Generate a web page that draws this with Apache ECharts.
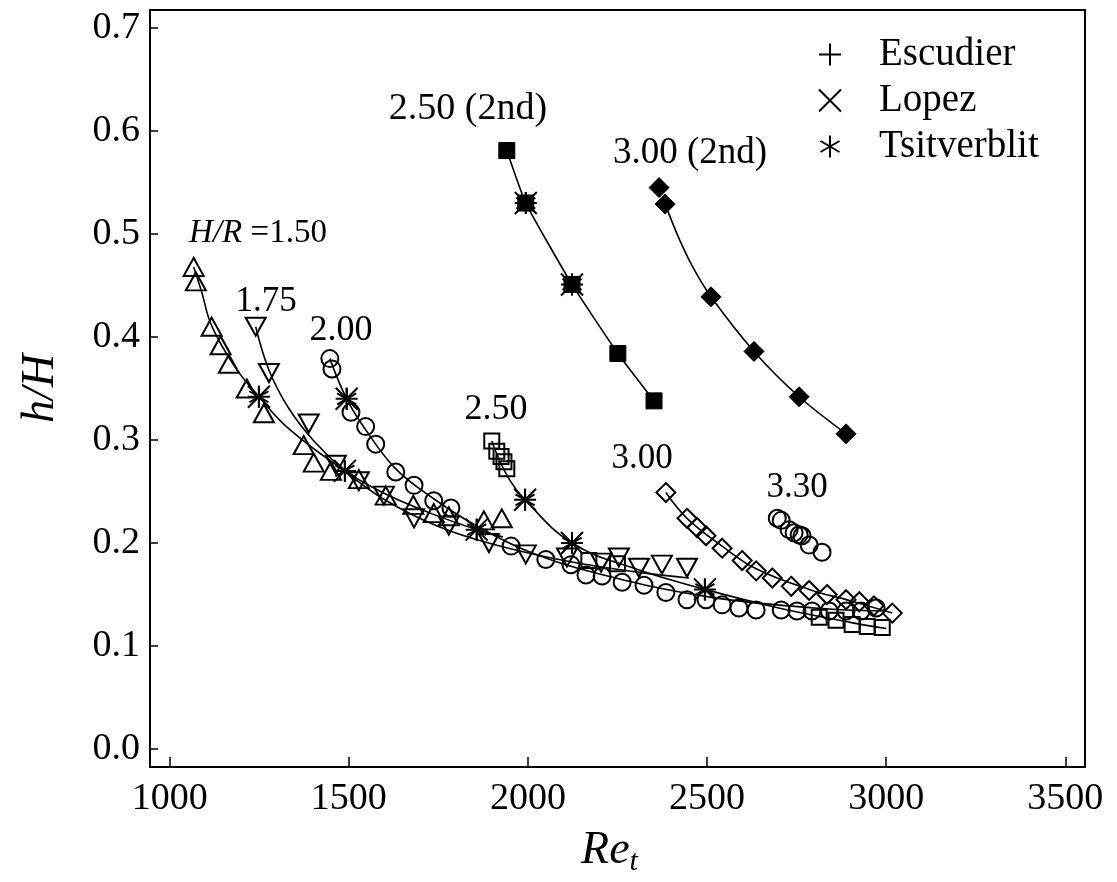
<!DOCTYPE html>
<html>
<head>
<meta charset="utf-8">
<script src="https://cdn.jsdelivr.net/npm/echarts@6/dist/echarts.min.js"></script>
<style>
html,body{margin:0;padding:0;background:#fff;}
#chart{width:1117px;height:882px;}
</style>
</head>
<body>
<div id="chart"></div>
<script>
// ---- tick labels ----
const reTicks = [1000, 1500, 2000, 2500, 3000, 3500];
const hTicks = [0.0, 0.1, 0.2, 0.3, 0.4, 0.5, 0.6, 0.7];

// ---- measured points [Re_t, h/H] ----
const hr150 = [[1067,0.468],[1073,0.454],[1117,0.410],[1142,0.392],[1165,0.374],[1215,0.350],[1263,0.326],[1374,0.295],[1402,0.278],[1450,0.270],[1528,0.262],[1603,0.246],[1680,0.237],[1737,0.229],[1779,0.226],[1877,0.222],[1927,0.224]];
const hr175 = [[1240,0.410],[1277,0.365],[1388,0.316],[1464,0.276],[1528,0.260],[1598,0.246],[1682,0.224],[1779,0.217],[1891,0.200],[1994,0.189],[2109,0.186],[2204,0.181],[2254,0.186],[2310,0.176],[2374,0.179],[2444,0.176]];
const hr200 = [[1447,0.379],[1453,0.369],[1506,0.327],[1547,0.313],[1575,0.296],[1631,0.269],[1682,0.256],[1737,0.241],[1785,0.234],[1953,0.197],[2050,0.184],[2120,0.179],[2162,0.169],[2207,0.168],[2263,0.162],[2324,0.159],[2385,0.152],[2444,0.145],[2497,0.145],[2542,0.140],[2589,0.137],[2637,0.135],[2707,0.135],[2751,0.134],[2793,0.134],[2841,0.134],[2888,0.134],[2930,0.134],[2972,0.137]];
const hr250 = [[1899,0.299],[1913,0.289],[1925,0.284],[1933,0.279],[1941,0.272],[2170,0.183],[2250,0.180],[2813,0.128],[2860,0.125],[2905,0.121],[2947,0.119],[2989,0.118]];
const hr300 = [[2385,0.249],[2444,0.224],[2472,0.215],[2497,0.207],[2542,0.195],[2598,0.183],[2637,0.173],[2682,0.166],[2735,0.158],[2785,0.154],[2835,0.150],[2888,0.145],[2925,0.143],[2966,0.139],[3017,0.132]];
const hr330 = [[2696,0.224],[2707,0.222],[2729,0.213],[2743,0.210],[2757,0.208],[2765,0.207],[2785,0.198],[2821,0.191]];
const hr250nd = [[1941,0.581],[1994,0.530],[2123,0.451],[2251,0.384],[2352,0.338]];
const hr300nd = [[2366,0.545],[2383,0.529],[2511,0.439],[2631,0.386],[2757,0.342],[2888,0.306]];

// ---- reference data (Escudier +, Lopez x, Tsitverblit *) ----
const escudier = [[1249,0.342],[1489,0.270],[1494,0.340],[1857,0.213],[1992,0.242],[2123,0.200],[2494,0.155],[1994,0.530],[2123,0.451]];
const lopez = [[1249,0.342],[1489,0.270],[1494,0.340],[1857,0.213],[1992,0.242],[2123,0.200],[2494,0.155],[1994,0.530],[2123,0.451]];
const tsitverblit = [[1249,0.342],[1489,0.270],[1494,0.340],[1857,0.213],[1992,0.242],[2123,0.200],[2494,0.155],[1994,0.530],[2123,0.451]];

// ---- fitted curves ----
const fit150 = [[1067,0.468],[1089,0.444],[1117,0.411],[1180,0.372],[1249,0.342],[1332,0.311],[1489,0.270],[1600,0.248],[1720,0.230],[1857,0.213],[1930,0.206]];
const fit175 = [[1240,0.410],[1277,0.368],[1330,0.332],[1400,0.300],[1489,0.270],[1600,0.242],[1750,0.216],[1900,0.199],[2100,0.183],[2300,0.172],[2450,0.166]];
const fit200 = [[1447,0.379],[1494,0.340],[1547,0.310],[1631,0.272],[1737,0.243],[1850,0.218],[2000,0.192],[2200,0.170],[2500,0.148],[2800,0.137],[2990,0.134]];
const fit250 = [[1899,0.299],[1941,0.266],[1992,0.242],[2123,0.200],[2300,0.175],[2494,0.155],[2700,0.137],[2900,0.123],[3000,0.117]];
const fit300 = [[2385,0.249],[2444,0.224],[2542,0.197],[2637,0.175],[2785,0.155],[2900,0.144],[3017,0.132]];
const fit250nd = [[1941,0.581],[1994,0.530],[2123,0.451],[2251,0.384],[2352,0.338]];
const fit300nd = [[2383,0.529],[2420,0.497],[2460,0.468],[2511,0.439],[2631,0.386],[2757,0.342],[2888,0.306]];

const FONT = 'Liberation Serif';
const PLUS = 'path://M10,0L10,20M0,10L20,10';
const CROSS = 'path://M0,0L20,20M0,20L20,0';
const STAR = 'path://M10,0L10,20M1.34,5L18.66,15M1.34,15L18.66,5';

const chart = echarts.init(document.getElementById('chart'), null, {renderer:'canvas'});

function fitLine(data, sm){
  return {type:'line', data:data, smooth:sm === undefined ? 0.4 : sm, showSymbol:false, symbol:'none', silent:true,
    lineStyle:{color:'#000', width:1.6}, z:2};
}
function openSym(name, data, symbol, size, rot){
  return {type:'scatter', name:name, data:data, symbol:symbol, symbolSize:size, symbolRotate:rot||0, silent:true,
    itemStyle:{color:'rgba(0,0,0,0)', borderColor:'#000', borderWidth:2, opacity:1}, z:3};
}
function filledSym(name, data, symbol, size){
  return {type:'scatter', name:name, data:data, symbol:symbol, symbolSize:size, silent:true,
    itemStyle:{color:'#000', borderColor:'#000', borderWidth:1, opacity:1}, z:3};
}
function refSym(name, data, symbol){
  return {type:'scatter', name:name, data:data, symbol:symbol, symbolSize:22, symbolKeepAspect:true, silent:true,
    itemStyle:{color:'rgba(0,0,0,0)', borderColor:'#000', borderWidth:2, opacity:1}, z:4};
}

const txt = (x, y, text, size, rich) => ({type:'text', x:x, y:y, style:{text:text, font:(size||36)+'px "Liberation Serif"', fill:'#000', align:'center', verticalAlign:'middle', rich:rich}});

const option = {
  backgroundColor:'#fff',
  animation:false,
  grid:{left:150, right:32, top:10, bottom:112, show:true, borderColor:'#000', borderWidth:2, backgroundColor:'transparent'},
  xAxis:{type:'value', min:945, max:3555,
    axisLine:{show:true, onZero:false, lineStyle:{color:'#000', width:2}},
    axisTick:{show:true, inside:true, length:10, customValues:reTicks, lineStyle:{color:'#000', width:1.5}},
    axisLabel:{customValues:reTicks, fontSize:38, fontFamily:FONT, color:'#000', margin:13, formatter:v => String(v)},
    splitLine:{show:false},
    name:'{a|Re}{b|t}', nameLocation:'middle', nameGap:58,
    nameTextStyle:{padding:[0,16,0,0], rich:{a:{fontSize:46, fontStyle:'italic', fontFamily:FONT, color:'#000'}, b:{fontSize:30, fontStyle:'italic', fontFamily:FONT, color:'#000', padding:[22,0,0,0]}}}
  },
  yAxis:{type:'value', min:-0.0174, max:0.7174,
    axisLine:{show:true, onZero:false, lineStyle:{color:'#000', width:2}},
    axisTick:{show:true, inside:true, length:8, customValues:hTicks, lineStyle:{color:'#000', width:1.5}},
    axisLabel:{customValues:hTicks, fontSize:38, fontFamily:FONT, color:'#000', margin:10, formatter:v => v.toFixed(1)},
    splitLine:{show:false},
    name:'h/H', nameLocation:'middle', nameGap:86, nameRotate:90,
    nameTextStyle:{fontSize:46, fontStyle:'italic', fontFamily:FONT, color:'#000'}
  },
  legend:{show:true, orient:'vertical', left:818, top:35, itemWidth:22, itemHeight:22, itemGap:7, padding:0,
    data:[{name:'Escudier', icon:PLUS},{name:'Lopez', icon:CROSS},{name:'Tsitverblit', icon:STAR}],
    textStyle:{fontSize:39, fontFamily:FONT, color:'#000', padding:[0,0,0,33]}, selectedMode:false},
  series:[
    fitLine(fit150), fitLine(fit175), fitLine(fit200), fitLine(fit250), fitLine(fit300), fitLine(fit250nd, 0.15), fitLine(fit300nd, 0.3),
    openSym('H/R=1.50', hr150, 'triangle', [20,18]),
    openSym('H/R=1.75', hr175, 'triangle', [20,18], 180),
    openSym('H/R=2.00', hr200, 'circle', 17),
    openSym('H/R=2.50', hr250, 'rect', 15),
    openSym('H/R=3.00', hr300, 'diamond', 19),
    openSym('H/R=3.30', hr330, 'circle', 17),
    filledSym('H/R=2.50 (2nd)', hr250nd, 'rect', 16),
    filledSym('H/R=3.00 (2nd)', hr300nd, 'diamond', 20),
    refSym('Escudier', escudier, PLUS),
    refSym('Lopez', lopez, CROSS),
    refSym('Tsitverblit', tsitverblit, STAR)
  ],
  graphic:[
    txt(258, 233, '{i|H/R} =1.50', 33, {i:{font:'italic 33px "Liberation Serif"', fill:'#000'}}),
    txt(266, 302, '1.75', 35),
    txt(341, 331, '2.00', 36),
    txt(496, 410, '2.50', 36),
    txt(642, 459, '3.00', 35),
    txt(797, 488, '3.30', 35),
    txt(468, 109, '2.50 (2nd)', 38),
    txt(690, 153, '3.00 (2nd)', 37)
  ]
};
chart.setOption(option);
</script>
</body>
</html>
